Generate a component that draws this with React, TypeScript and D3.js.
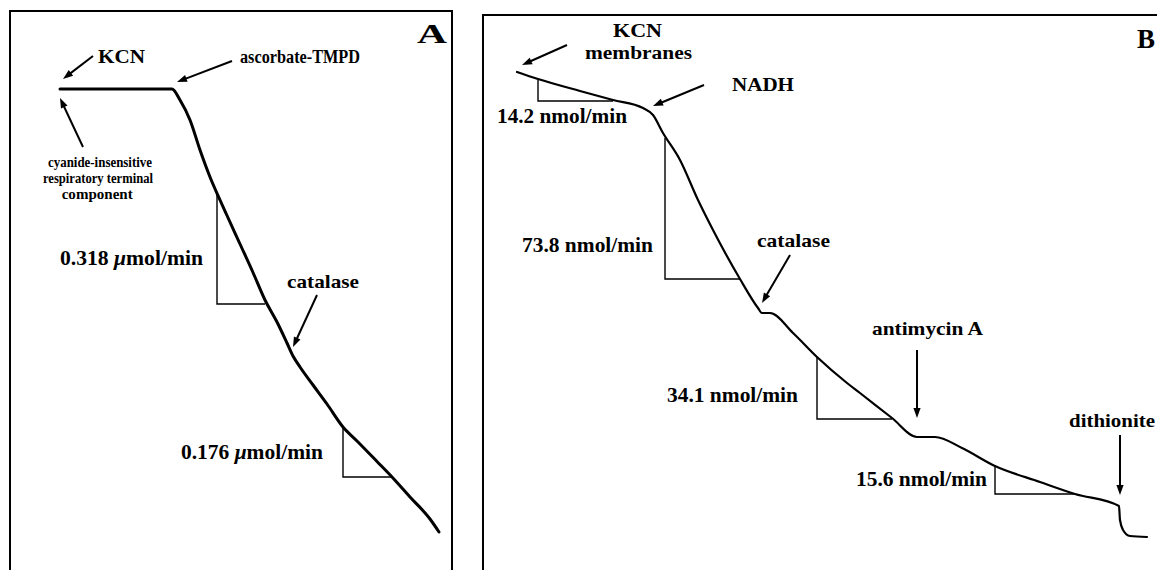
import React from "react";
import * as d3 from "d3";

// ---------- DATA ----------
// Panel A: O2 electrode trace (time in min, signal in arbitrary O2 units)
const timeA = [1.25, 4.05, 4.25, 4.5, 4.75, 5.0, 5.25, 5.425, 5.75, 6.075, 6.375, 6.675, 6.925, 7.075, 7.25, 7.575, 7.925, 8.325, 8.675, 9.175, 9.55, 10.0, 10.5, 10.725];
const signalA = [240.5, 240.5, 235, 225, 210, 196.5, 185, 177.25, 163, 148.75, 135, 124, 113.5, 107, 101.5, 92.5, 83, 71.5, 64.5, 54.25, 46.5, 36.5, 25.5, 19];

// Panel B trace
const timeB = [0.85, 1.375, 2.425, 3.25, 4.0, 4.25, 4.5, 4.925, 5.375, 5.75, 6.425, 6.875, 6.975, 7.175, 7.75, 8.35, 9.1, 9.425, 10.225, 10.85, 11.3, 11.975, 12.8, 13.925, 14.8, 15.9, 15.925, 16.0, 16.175, 16.6];
const signalB = [249, 245.5, 239.5, 235, 231, 227.5, 218.5, 205, 185, 170, 145.5, 131, 128.5, 128.5, 118.5, 106.5, 93.5, 88.5, 76, 66.5, 66.5, 61, 52, 44, 38, 32, 25, 20, 17, 16.5];

// Slope triangles [t0, t1, top, bottom]
const trianglesA = [
  [5.175, 6.375, 188.5, 133],
  [8.325, 9.55, 71.5, 46.5],
];
const trianglesB = [
  [1.375, 3.25, 245.5, 234.5],
  [4.55, 6.425, 216, 145.5],
  [8.35, 10.225, 106.5, 75.5],
  [12.8, 14.8, 52, 38],
];

// Rate labels
const ratesA = ["0.318", "0.176"];
const rateUnitA = "mol/min";
const ratesB = ["14.2", "73.8", "34.1", "15.6"];
const rateUnitB = "nmol/min";

// ---------- LAYOUT ----------
const W = 1157;
const H = 570;
const FONT = '"Liberation Serif", "Times New Roman", serif';

const xA = d3.scaleLinear().domain([0, 11.05]).range([10, 452]);
const yA = d3.scaleLinear().domain([0, 279.5]).range([570, 11]);
const xB = d3.scaleLinear().domain([0, 16.85]).range([483, 1157]);
const yB = d3.scaleLinear().domain([0, 277.5]).range([570, 15]);

// annotation positions in data units: [t, v, width]
const rateLabelPosA = [
  [1.25, 152.5, 143],
  [4.275, 55.5, 142],
];
const rateLabelPosB = [
  [0.35, 223.5, 130],
  [0.975, 159, 131],
  [4.6, 84, 131],
  [9.325, 42, 131],
];

type Ann = { text: string; t: number; v: number; w: number; size: number; anchor?: string };
const textA: Ann[] = [
  { text: "KCN", t: 2.2, v: 253.5, w: 47, size: 19 },
  { text: "ascorbate-TMPD", t: 5.75, v: 253.5, w: 120, size: 18 },
  { text: "cyanide-insensitive", t: 2.25, v: 201.5, w: 104, size: 15, anchor: "middle" },
  { text: "respiratory terminal", t: 2.2, v: 193.5, w: 110, size: 15, anchor: "middle" },
  { text: "component", t: 2.18, v: 185.5, w: 71, size: 15, anchor: "middle" },
  { text: "catalase", t: 6.925, v: 141, w: 72, size: 19 },
  { text: "A", t: 10.175, v: 263.5, w: 30, size: 28 },
];
const textB: Ann[] = [
  { text: "KCN", t: 3.8625, v: 266.5, w: 49, size: 18, anchor: "middle" },
  { text: "membranes", t: 3.8875, v: 255.5, w: 107, size: 18, anchor: "middle" },
  { text: "NADH", t: 6.225, v: 239.5, w: 62, size: 18 },
  { text: "catalase", t: 6.85, v: 161.5, w: 73, size: 19 },
  { text: "antimycin A", t: 9.725, v: 117.5, w: 111, size: 19 },
  { text: "dithionite", t: 14.65, v: 71.5, w: 86, size: 19 },
  { text: "B", t: 16.35, v: 261, w: 18, size: 28 },
];

// arrows: [tailT, tailV, headT, headV]
const arrowsA = [
  [2.075, 257, 1.325, 245.5],
  [5.55, 254.5, 4.175, 244],
  [1.825, 211.5, 1.25, 236],
  [7.675, 137.5, 7.075, 111.5],
];
const arrowsB = [
  [2.1, 262.5, 0.975, 252.5],
  [5.525, 242.5, 4.25, 232],
  [7.675, 157.5, 6.975, 133.5],
  [10.85, 110, 10.85, 76],
  [15.925, 67.5, 15.925, 37.5],
];

function Arrow({ x0, y0, x1, y1 }: { x0: number; y0: number; x1: number; y1: number }) {
  const dx = x1 - x0;
  const dy = y1 - y0;
  const len = Math.hypot(dx, dy);
  const ux = dx / len;
  const uy = dy / len;
  const hl = 10;
  const hw = 3.6;
  const bx = x1 - ux * hl;
  const by = y1 - uy * hl;
  const pts = [
    [x1, y1],
    [bx - uy * hw, by + ux * hw],
    [bx + uy * hw, by - ux * hw],
  ];
  return (
    <g>
      <line x1={x0} y1={y0} x2={bx + ux * 2} y2={by + uy * 2} stroke="#000" strokeWidth={2} />
      <polygon points={pts.map((p) => p.join(",")).join(" ")} fill="#000" />
    </g>
  );
}

function Panel({
  x, y, time, signal, triangles, rates, ratePos, unit, italicMu, texts, arrows, traceWidth,
}: any) {
  const pts: [number, number][] = time.map((t: number, i: number) => [t, signal[i]]);
  const line = d3
    .line<[number, number]>()
    .x((d) => x(d[0]))
    .y((d) => y(d[1]))
    .curve(d3.curveMonotoneX);
  return (
    <g>
      <path d={line(pts) || ""} fill="none" stroke="#000" strokeWidth={traceWidth} strokeLinejoin="round" strokeLinecap="round" />
      {triangles.map((tr: number[], i: number) => (
        <path
          key={i}
          d={`M${x(tr[0])},${y(tr[2])}L${x(tr[0])},${y(tr[3])}L${x(tr[1])},${y(tr[3])}`}
          fill="none"
          stroke="#000"
          strokeWidth={1.4}
        />
      ))}
      {rates.map((r: string, i: number) => (
        <text
          key={i}
          x={x(ratePos[i][0])}
          y={y(ratePos[i][1])}
          fontFamily={FONT}
          fontWeight="bold"
          fontSize={20}
          textLength={ratePos[i][2]}
          lengthAdjust="spacingAndGlyphs"
        >
          {italicMu ? (
            <>
              {r + " "}
              <tspan fontStyle="italic">μ</tspan>
              {unit}
            </>
          ) : (
            r + " " + unit
          )}
        </text>
      ))}
      {texts.map((a: Ann, i: number) => (
        <text
          key={i}
          x={x(a.t)}
          y={y(a.v)}
          fontFamily={FONT}
          fontWeight="bold"
          fontSize={a.size}
          textAnchor={a.anchor || "start"}
          textLength={a.w}
          lengthAdjust="spacingAndGlyphs"
        >
          {a.text}
        </text>
      ))}
      {arrows.map((a: number[], i: number) => (
        <Arrow key={i} x0={x(a[0])} y0={y(a[1])} x1={x(a[2])} y1={y(a[3])} />
      ))}
    </g>
  );
}

export default function App() {
  return (
    <svg
      width={W}
      height={H}
      viewBox={`0 0 ${W} ${H}`}
      style={{ position: "absolute", left: 0, top: 0, background: "#fff" }}
    >
      <rect x={0} y={0} width={W} height={H} fill="#fff" />
      {/* frames */}
      <path d={`M10,${H + 2}L10,11L452,11L452,${H + 2}`} fill="none" stroke="#000" strokeWidth={2} />
      <path d={`M483,${H + 2}L483,15L${W + 2},15`} fill="none" stroke="#000" strokeWidth={2} />
      <Panel
        x={xA}
        y={yA}
        time={timeA}
        signal={signalA}
        triangles={trianglesA}
        rates={ratesA}
        ratePos={rateLabelPosA}
        unit={rateUnitA}
        italicMu={true}
        texts={textA}
        arrows={arrowsA}
        traceWidth={3}
      />
      <Panel
        x={xB}
        y={yB}
        time={timeB}
        signal={signalB}
        triangles={trianglesB}
        rates={ratesB}
        ratePos={rateLabelPosB}
        unit={rateUnitB}
        italicMu={false}
        texts={textB}
        arrows={arrowsB}
        traceWidth={2.2}
      />
    </svg>
  );
}
